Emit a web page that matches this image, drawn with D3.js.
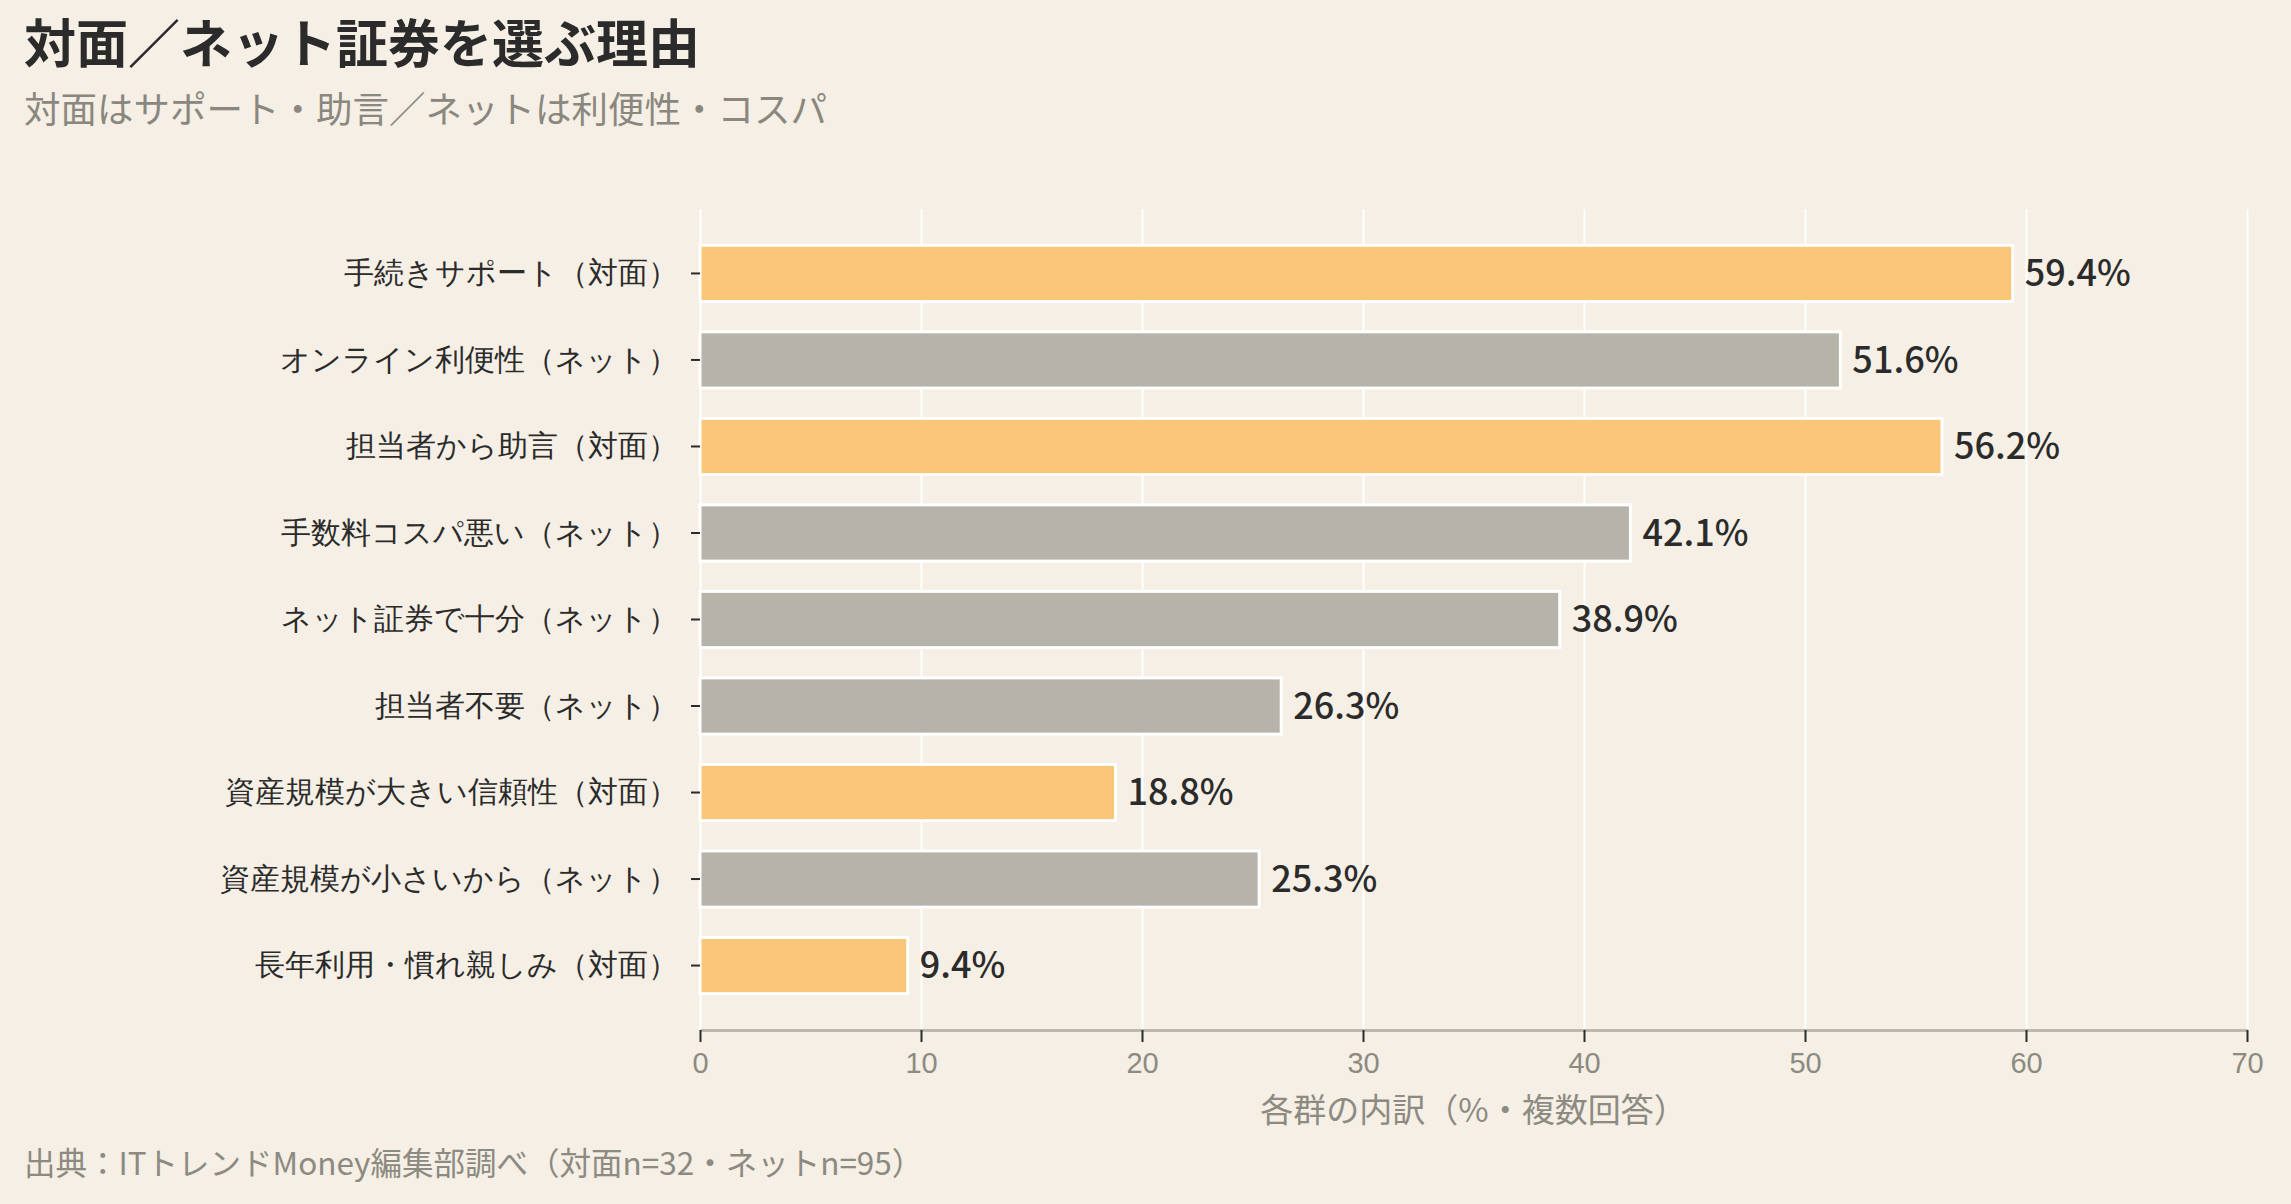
<!DOCTYPE html>
<html lang="ja">
<head>
<meta charset="utf-8">
<title>対面／ネット証券を選ぶ理由</title>
<script src="https://cdn.jsdelivr.net/npm/d3@7"></script>
<style>
  html, body { margin: 0; padding: 0; background: #f5efe5; }
  body { font-family: "Noto Sans CJK JP", "Noto Sans", sans-serif; }
  .grid line { stroke: #ffffff; stroke-width: 2; }
  .grid path { display: none; }
  .y-axis path { display: none; }
  .y-axis line { stroke: #2b2b2b; stroke-width: 2; }
  .y-axis text { fill: #2b2b2b; font-size: 30px; }
  .x-axis path { stroke: #bcb8ae; stroke-width: 3; }
  .x-axis line { stroke: #2b2b2b; stroke-width: 2; }
  .x-axis text { fill: #8c8a81; font-size: 29px; }
</style>
</head>
<body>
<div id="wrapper"></div>
<script>
const categories = [
  "手続きサポート（対面）",
  "オンライン利便性（ネット）",
  "担当者から助言（対面）",
  "手数料コスパ悪い（ネット）",
  "ネット証券で十分（ネット）",
  "担当者不要（ネット）",
  "資産規模が大きい信頼性（対面）",
  "資産規模が小さいから（ネット）",
  "長年利用・慣れ親しみ（対面）"
]
const values = [59.4, 51.6, 56.2, 42.1, 38.9, 26.3, 18.8, 25.3, 9.4]
const groups = ["対面", "ネット", "対面", "ネット", "ネット", "ネット", "対面", "ネット", "対面"]
const xTicks = [0, 10, 20, 30, 40, 50, 60, 70]

const groupColors = { "対面": "#f9c777", "ネット": "#b6b3aa" }

async function drawChart() {
  let dimensions = {
    width: 2291,
    height: 1204,
    margin: { top: 209, right: 44, bottom: 174, left: 700 },
  }
  dimensions.boundedWidth = dimensions.width - dimensions.margin.left - dimensions.margin.right
  dimensions.boundedHeight = dimensions.height - dimensions.margin.top - dimensions.margin.bottom

  const wrapper = d3.select("#wrapper")
    .append("svg")
    .attr("width", dimensions.width)
    .attr("height", dimensions.height)
    .style("display", "block")

  wrapper.append("rect")
    .attr("width", dimensions.width)
    .attr("height", dimensions.height)
    .attr("fill", "#f5efe5")

  // titles
  wrapper.append("text")
    .attr("x", 24)
    .attr("y", 63)
    .style("font-size", "52px")
    .style("font-weight", "bold")
    .style("fill", "#2b2b2b")
    .text("対面／ネット証券を選ぶ理由")

  wrapper.append("text")
    .attr("x", 24)
    .attr("y", 123)
    .style("font-size", "36.5px")
    .style("fill", "#8a877f")
    .text("対面はサポート・助言／ネットは利便性・コスパ")

  const bounds = wrapper.append("g")
    .attr("transform", `translate(${dimensions.margin.left},${dimensions.margin.top})`)

  const xScale = d3.scaleLinear()
    .domain([0, 70])
    .range([0, dimensions.boundedWidth])

  const yScale = d3.scaleBand()
    .domain(categories)
    .range([0, dimensions.boundedHeight])
    .paddingInner(0.35)
    .paddingOuter(0.42)

  // gridlines
  bounds.append("g")
    .attr("class", "grid")
    .call(d3.axisBottom(xScale).tickValues(xTicks).tickSize(dimensions.boundedHeight).tickFormat(""))

  // bars
  bounds.selectAll(".bar")
    .data(values)
    .join("rect")
    .attr("class", "bar")
    .attr("x", xScale(0))
    .attr("y", (d, i) => yScale(categories[i]))
    .attr("width", d => xScale(d) - xScale(0))
    .attr("height", yScale.bandwidth())
    .attr("fill", (d, i) => groupColors[groups[i]])
    .attr("stroke", "#ffffff")
    .attr("stroke-width", 3)

  // value labels
  bounds.selectAll(".value")
    .data(values)
    .join("text")
    .attr("class", "value")
    .attr("x", d => xScale(d) + 12)
    .attr("y", (d, i) => yScale(categories[i]) + yScale.bandwidth() / 2)
    .attr("dy", "0.35em")
    .style("font-size", "36px")
    .style("font-weight", 500)
    .style("fill", "#2b2b2b")
    .text(d => `${d.toFixed(1)}%`)

  // axes
  bounds.append("g")
    .attr("class", "y-axis")
    .call(d3.axisLeft(yScale).tickSize(9).tickPadding(13))

  bounds.append("g")
    .attr("class", "x-axis")
    .attr("transform", `translate(0,${dimensions.boundedHeight})`)
    .call(d3.axisBottom(xScale).tickValues(xTicks).tickSize(12).tickSizeOuter(0).tickPadding(10))

  bounds.append("text")
    .attr("x", dimensions.boundedWidth / 2)
    .attr("y", dimensions.boundedHeight + 92)
    .attr("text-anchor", "middle")
    .style("font-size", "33px")
    .style("fill", "#8c8a81")
    .text("各群の内訳（%・複数回答）")

  wrapper.append("text")
    .attr("x", 24)
    .attr("y", 1175)
    .style("font-size", "31.5px")
    .style("fill", "#8c8a81")
    .text("出典：ITトレンドMoney編集部調べ（対面n=32・ネットn=95）")
}
drawChart()
</script>
</body>
</html>
